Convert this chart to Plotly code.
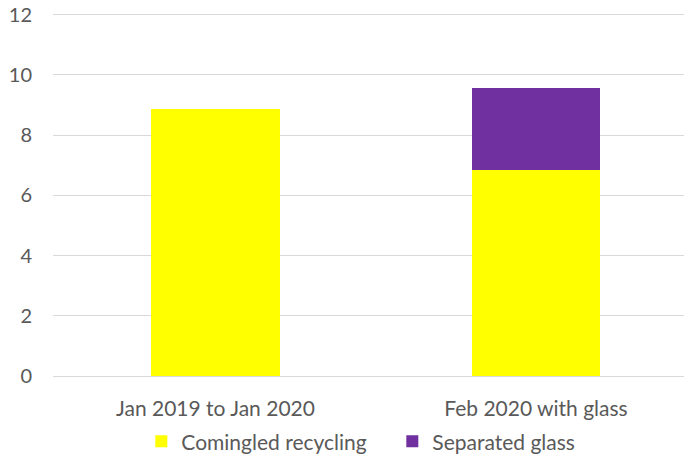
import plotly.graph_objects as go

categories = ["Jan 2019 to Jan 2020", "Feb 2020 with glass"]
comingled = [8.86, 6.84]
glass = [None, 2.71]
y_ticks = [0, 2, 4, 6, 8, 10, 12]

FONT = "Lato"
TXT = "#595959"

fig = go.Figure()
fig.add_trace(go.Bar(x=[0, 1], y=comingled, name="Comingled recycling",
                     marker=dict(color="#FFFF00", line=dict(width=0)), width=0.4))
fig.add_trace(go.Bar(x=[0, 1], y=glass, name="Separated glass",
                     marker=dict(color="#7030A0", line=dict(width=0)), width=0.4))

fig.update_layout(
    width=684, height=452,
    barmode="stack",
    paper_bgcolor="white", plot_bgcolor="white",
    margin=dict(l=45, r=0, t=4.5, b=83.5, autoexpand=False),
    font=dict(family=FONT, color=TXT, size=20),
    showlegend=True,
    legend=dict(orientation="h", x=0.531, xanchor="center", y=-0.181, yanchor="middle",
                font=dict(size=21, color=TXT), itemwidth=30, traceorder="normal",
                entrywidth=206, entrywidthmode="pixels",
                bgcolor="rgba(0,0,0,0)"),
    xaxis=dict(range=[-0.507, 1.487], tickmode="array", tickvals=[0, 1], ticktext=categories,
               showgrid=False, zeroline=False, showline=True, linecolor="#D9D9D9", linewidth=1,
               ticks="", tickfont=dict(size=21, color=TXT), ticklabelstandoff=14),
    yaxis=dict(range=[0, 12.05], tickmode="array", tickvals=y_ticks, showgrid=True,
               gridcolor="#D9D9D9", gridwidth=1, zeroline=False, showline=False,
               ticks="", tickfont=dict(size=20, color=TXT), ticklabelstandoff=20,
               ticklabeloverflow="allow"),
    annotations=[dict(text="Average total collected (tonnes)", xref="paper", yref="paper",
                      x=(617 - 45) / 639, y=1.018, xanchor="right", yanchor="bottom",
                      showarrow=False, font=dict(size=28, color=TXT, family=FONT))],
)

fig.write_html("out.html")
